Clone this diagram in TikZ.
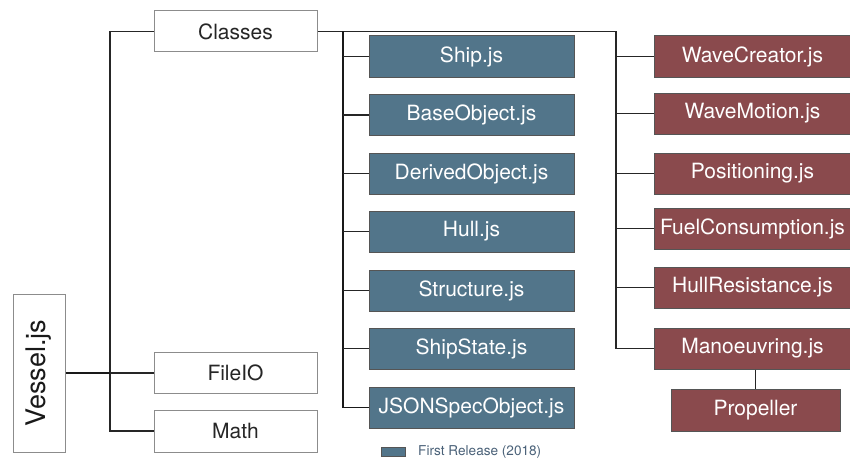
\documentclass[tikz,border=0pt]{standalone}
\usepackage{fontspec}
\setmainfont{TeX Gyre Heros}
\definecolor{fblue}{HTML}{52758A}
\definecolor{fred}{HTML}{8A4A4D}
\definecolor{wborder}{HTML}{8C8C8C}
\definecolor{cborder}{HTML}{555555}
\definecolor{legtext}{HTML}{4A6178}
\begin{document}
\begin{tikzpicture}[x=1pt,y=-1pt,
  wbox/.style={draw=wborder,line width=1pt,fill=white,minimum width=163pt,minimum height=41pt,inner sep=0pt,font=\fontsize{21}{24}\selectfont,text=black!85},
  bbox/.style={draw=cborder,line width=1pt,fill=fblue,minimum width=205pt,minimum height=41pt,inner sep=0pt,font=\fontsize{21}{24}\selectfont,text=white},
  rbox/.style={draw=cborder,line width=1pt,fill=fred,minimum width=197pt,minimum height=41pt,inner sep=0pt,font=\fontsize{21}{24}\selectfont,text=white},
  conn/.style={draw=black!85,line width=1.3pt},
  trunk/.style={draw=black!90,line width=1.8pt}]
\useasboundingbox (0,0) rectangle (850,460);
% left column
\node[wbox,minimum width=52pt,minimum height=158pt] (vessel) at (39,373) {};
\node[rotate=90,font=\fontsize{27}{30}\selectfont,text=black!90] (vesseltext) at (vessel.center) {Vessel.js};
\node[wbox] (classes) at (235.5,31.5) {Classes};
\node[wbox] (fileio) at (235.5,373) {FileIO};
\node[wbox,minimum height=42pt] (math) at (235.5,431) {Math};
% blue
\node[bbox] (ship) at (471.5,56.5) {Ship.js};
\node[bbox] (base) at (471.5,115) {BaseObject.js};
\node[bbox] (derived) at (471.5,173.5) {DerivedObject.js};
\node[bbox] (hull) at (471.5,231.5) {Hull.js};
\node[bbox] (structure) at (471.5,290.5) {Structure.js};
\node[bbox] (shipstate) at (471.5,348.5) {ShipState.js};
\node[bbox] (json) at (471.5,407.5) {JSONSpecObject.js};
% red
\node[rbox] (wavecreator) at (752.5,56.5) {WaveCreator.js};
\node[rbox] (wavemotion) at (752.5,113.5) {WaveMotion.js};
\node[rbox] (positioning) at (752.5,173.5) {Positioning.js};
\node[rbox] (fuel) at (752.5,228.5) {FuelConsumption.js};
\node[rbox] (hullres) at (752.5,287.5) {HullResistance.js};
\node[rbox] (manoeuvring) at (752.5,348.5) {Manoeuvring.js};
\node[rbox,minimum width=169pt,minimum height=42pt] (propeller) at (755.5,410) {Propeller};
% connectors left
\coordinate (lt) at (110,31.5);
\draw[conn] (classes.west) -- (lt) |- (math.west);
\draw[trunk] (vessel.east) -- (lt |- vessel.east);
\draw[conn] (lt |- vessel.east) -- (fileio.west);
% trunks
\coordinate (bt) at (343,31.5);
\coordinate (rt) at (616,31.5);
\draw[conn] (classes.east) -- (rt);
\draw[trunk] (bt) |- (json.west);
\draw[conn] (rt) |- (manoeuvring.west);
\foreach \n in {ship,base,derived,hull,structure,shipstate}
  \draw[conn] (\n.west) -- (bt |- \n.west);
\foreach \n in {wavecreator,wavemotion,positioning,fuel,hullres}
  \draw[conn] (\n.west) -- (rt |- \n.west);
\draw[conn] (manoeuvring.south -| propeller.north) -- (propeller.north);
% legend
\node[draw=cborder,line width=0.6pt,fill=fblue,minimum width=24pt,minimum height=8.5pt,inner sep=0pt] (legbox) at (393,452) {};
\node[anchor=west,inner sep=0pt,font=\fontsize{13.6}{15}\selectfont,text=legtext] (legtext) at (418,452) {First Release (2018)};
\end{tikzpicture}
\end{document}
